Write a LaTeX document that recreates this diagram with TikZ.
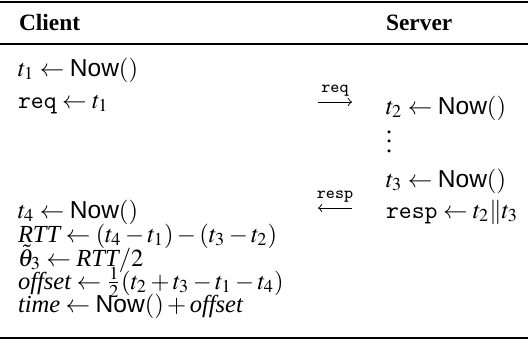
\documentclass[tikz,border=0pt]{standalone}
\usepackage{mathptmx}
\usepackage{fontspec}
\setmainfont{Liberation Serif}
\setsansfont{Liberation Sans}
\newcommand{\nowcall}{\textsf{Now}()}
\begin{document}
\begin{tikzpicture}[x=0.44pt,y=-0.44pt,
  txt/.style={anchor=base west,inner sep=0pt,outer sep=0pt,font=\fontsize{10.8}{13}\selectfont},
  head/.style={txt,font=\fontsize{10.3}{12}\selectfont\bfseries},
  heavyrule/.style={line width=0.9pt},
  lightrule/.style={line width=0.55pt},
  msg/.style={line width=0.4pt,->},
  msglabel/.style={inner sep=0pt,anchor=base,font=\fontsize{7.5}{8}\ttfamily}]
\useasboundingbox (0,0) rectangle (528,355);

% table rules
\draw[heavyrule] (0,2) -- (528,2);
\draw[lightrule] (0,44) -- (528,44);
\draw[heavyrule] (0,338) -- (528,338);

% column headers
\node[head] (hclient) at (19,30) {Client};
\node[head] (hserver) at (386,30) {Server};

% client side
\node[txt] (c1) at (18,76) {$t_1 \leftarrow \nowcall$};
\node[txt] (c2) at (18,108) {$\texttt{req} \leftarrow t_1$};
\node[txt] (c3) at (18,218) {$t_4 \leftarrow \nowcall$};
\node[txt] (c4) at (18,242) {$\textit{RTT} \leftarrow (t_4 - t_1) - (t_3 - t_2)$};
\node[txt] (c5) at (18,266) {$\tilde{\theta}_3 \leftarrow \textit{RTT}/2$};
\node[txt] (c6) at (18,289) {$\textit{offset} \leftarrow \frac{1}{2}(t_2 + t_3 - t_1 - t_4)$};
\node[txt] (c7) at (18,312) {$\textit{time} \leftarrow \nowcall + \textit{offset}$};

% server side
\node[txt] (s1) at (386,114) {$t_2 \leftarrow \nowcall$};
\node[txt] (s2) at (386,152) {$\vdots$};
\node[txt] (s3) at (386,187) {$t_3 \leftarrow \nowcall$};
\node[txt] (s4) at (386,218) {$\texttt{resp} \leftarrow t_2 \| t_3$};

% messages
\coordinate (reqa) at (318,102);
\coordinate (reqb) at (352,102);
\coordinate (respa) at (352,208);
\coordinate (respb) at (318,208);
\draw[msg] (reqa) -- (reqb) node[msglabel,pos=0.5,yshift=4pt] (lreq) {req};
\draw[msg] (respa) -- (respb) node[msglabel,pos=0.5,yshift=4pt] (lresp) {resp};
\end{tikzpicture}
\end{document}
